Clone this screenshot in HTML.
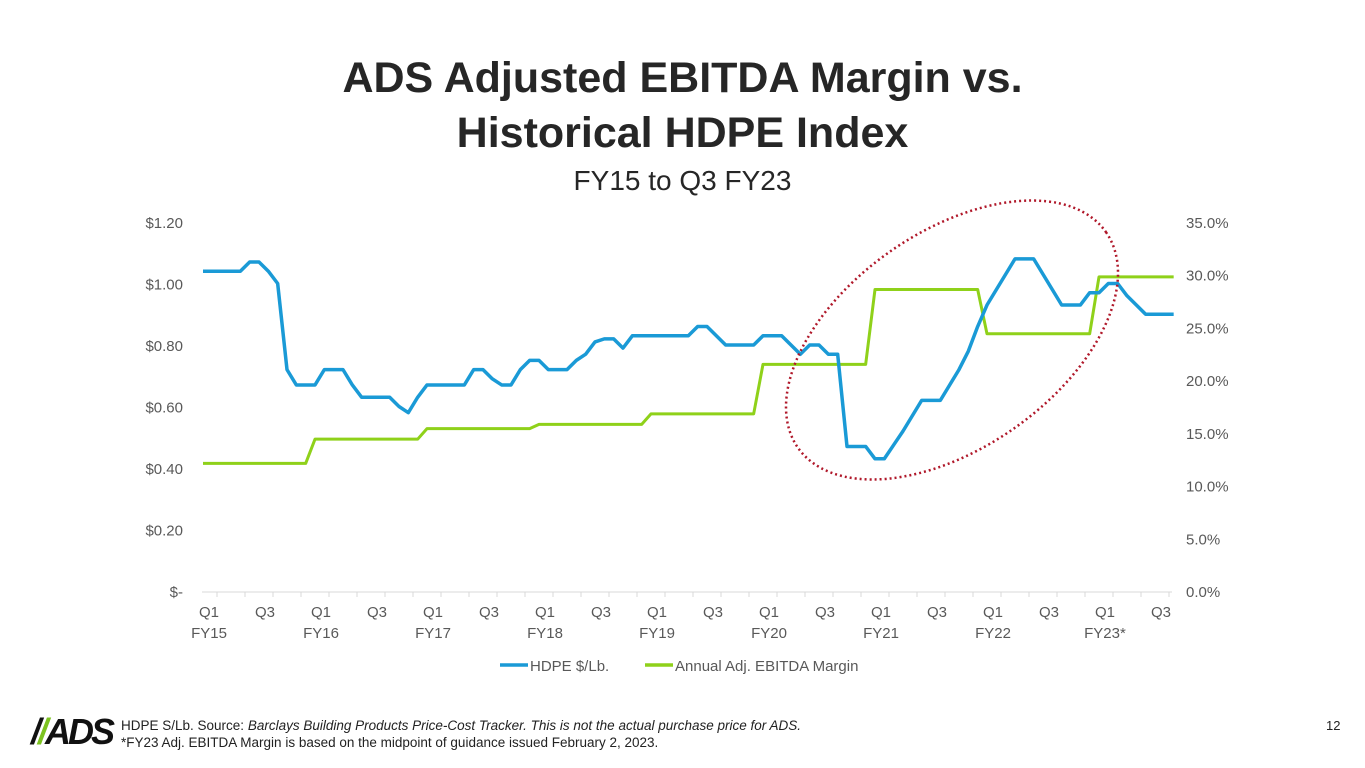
<!DOCTYPE html>
<html><head><meta charset="utf-8"><style>
body{margin:0;width:1365px;height:768px;background:#fff;overflow:hidden;font-family:"Liberation Sans",sans-serif;position:relative}
.t{position:absolute;white-space:nowrap}
</style></head><body>
<div class="t" style="left:0;width:1365px;top:51px;text-align:center;font-size:43px;font-weight:bold;color:#262626;line-height:55px">ADS Adjusted EBITDA Margin vs.<br>Historical HDPE Index</div>
<div class="t" style="left:0;width:1365px;top:165px;text-align:center;font-size:28px;color:#262626">FY15 to Q3 FY23</div>
<svg id="chart" width="1365" height="700" style="position:absolute;left:0;top:0" font-family="Liberation Sans, sans-serif"></svg>
<div class="t" style="left:31px;top:711px;font-size:36px;font-weight:bold;font-style:italic;letter-spacing:-3px;color:#111">
<span style="color:#111">/</span><span style="color:#7cc320">/</span>ADS</div>
<div class="t" style="left:121px;top:718px;font-size:13.5px;color:#222">HDPE S/Lb. Source: <i>Barclays Building Products Price-Cost Tracker. This is not the actual purchase price for ADS.</i></div>
<div class="t" style="left:121px;top:735px;font-size:13.5px;color:#222">*FY23 Adj. EBITDA Margin is based on the midpoint of guidance issued February 2, 2023.</div>
<div class="t" style="left:1326px;top:718px;font-size:13px;color:#222">12</div>
<script>
const hdpe=[1.04,1.04,1.04,1.04,1.04,1.07,1.07,1.04,1.00,0.72,0.67,0.67,0.67,0.72,0.72,0.72,0.67,0.63,0.63,0.63,0.63,0.60,0.58,0.63,0.67,0.67,0.67,0.67,0.67,0.72,0.72,0.69,0.67,0.67,0.72,0.75,0.75,0.72,0.72,0.72,0.75,0.77,0.81,0.82,0.82,0.79,0.83,0.83,0.83,0.83,0.83,0.83,0.83,0.86,0.86,0.83,0.80,0.80,0.80,0.80,0.83,0.83,0.83,0.80,0.77,0.80,0.80,0.77,0.77,0.47,0.47,0.47,0.43,0.43,0.475,0.52,0.57,0.62,0.62,0.62,0.67,0.72,0.78,0.86,0.93,0.98,1.03,1.08,1.08,1.08,1.03,0.98,0.93,0.93,0.93,0.97,0.97,1.00,1.00,0.96,0.93,0.90,0.90,0.90,0.90];
const fyMargins=[12.1,14.4,15.4,15.8,16.8,21.5,28.6,24.4,29.8];
const leftTicks=["$-","$0.20","$0.40","$0.60","$0.80","$1.00","$1.20"];
const leftVals=[0,0.2,0.4,0.6,0.8,1.0,1.2];
const rightTicks=["0.0%","5.0%","10.0%","15.0%","20.0%","25.0%","30.0%","35.0%"];
const rightVals=[0,5,10,15,20,25,30,35];
const qLabels=["Q1","Q3","Q1","Q3","Q1","Q3","Q1","Q3","Q1","Q3","Q1","Q3","Q1","Q3","Q1","Q3","Q1","Q3"];
const fyLabels=["FY15","","FY16","","FY17","","FY18","","FY19","","FY20","","FY21","","FY22","","FY23*",""];
const S="http://www.w3.org/2000/svg",svg=document.getElementById('chart');
const xM=i=>203+i*28/3, xQ=i=>203+i*28;
const yL=v=>591-v*307.5, yR=p=>591-p*(369/35);
function el(t,a,p){const e=document.createElementNS(S,t);for(const k in a)e.setAttribute(k,a[k]);(p||svg).appendChild(e);return e;}
let e=el('line',{x1:202,x2:1172,y1:592,y2:592,stroke:'#d9d9d9'});

for(let i=0;i<35;i++){let t=el('line',{x1:xQ(i)+14,x2:xQ(i)+14,y1:592,y2:597,stroke:'#d9d9d9'});}
leftVals.forEach((v,i)=>{let t=el('text',{x:183,y:yL(v)+6,'text-anchor':'end','font-size':15,fill:'#595959'});t.textContent=leftTicks[i];
});
rightVals.forEach((v,i)=>{let t=el('text',{x:1186,y:yR(v)+6,'font-size':15,fill:'#595959'});t.textContent=rightTicks[i];
});
qLabels.forEach((q,i)=>{let t=el('text',{x:xQ(i*2)+6,y:617,'text-anchor':'middle','font-size':15,fill:'#595959'});t.textContent=q;

if(fyLabels[i]){let f=el('text',{x:xQ(i*2)+6,y:638,'text-anchor':'middle','font-size':15,fill:'#595959'});f.textContent=fyLabels[i];
}});
const margin=hdpe.map((_,i)=>fyMargins[Math.min(Math.floor(i/12),fyMargins.length-1)]);
let g=el('polyline',{points:margin.map((p,i)=>xM(i)+','+yR(p)).join(' '),fill:'none',stroke:'#8fd11a','stroke-width':3,'stroke-linejoin':'round'});

let b=el('polyline',{points:hdpe.map((v,i)=>xM(i)+','+yL(v)).join(' '),fill:'none',stroke:'#1a9ad6','stroke-width':3.5,'stroke-linejoin':'round'});

let o=el('ellipse',{cx:952,cy:340,rx:188,ry:108,transform:'rotate(-35 952 340)',fill:'none',stroke:'#b0182a','stroke-width':2.5,'stroke-dasharray':'2 3'});

let l1=el('line',{x1:500,x2:528,y1:665,y2:665,stroke:'#1a9ad6','stroke-width':3.5});
let t1=el('text',{x:530,y:671,'font-size':15,fill:'#595959'});t1.textContent='HDPE $/Lb.';
let l2=el('line',{x1:645,x2:673,y1:665,y2:665,stroke:'#8fd11a','stroke-width':3.5});
let t2=el('text',{x:675,y:671,'font-size':15,fill:'#595959'});t2.textContent='Annual Adj. EBITDA Margin';
</script>
</body></html>
